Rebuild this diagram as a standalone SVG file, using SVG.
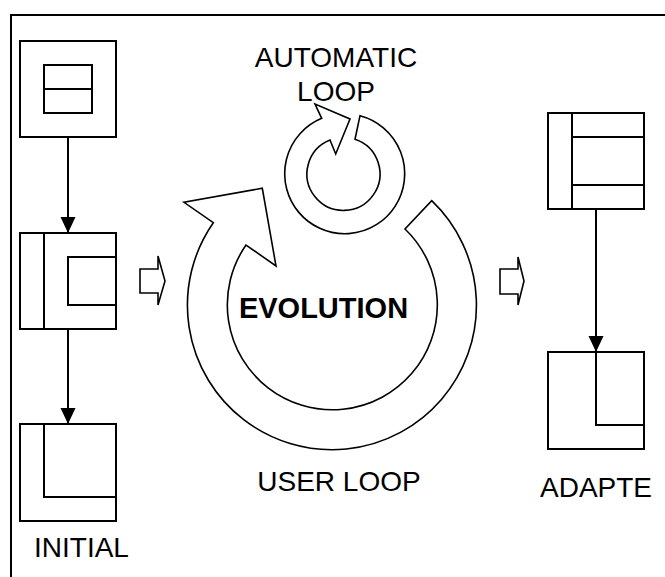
<svg xmlns="http://www.w3.org/2000/svg" width="665" height="577" viewBox="0 0 665 577">
<style>
.box{fill:none;stroke:#000;stroke-width:2}
.ln{fill:none;stroke:#000;stroke-width:2}
.ring{fill:#fff;stroke:#000;stroke-width:1.6;stroke-linejoin:miter}
.lbl{font-family:"Liberation Sans",Arial,sans-serif;font-size:28px;fill:#000;text-anchor:middle}
.big{font-family:"Liberation Sans",Arial,sans-serif;font-size:29px;font-weight:bold;fill:#000;text-anchor:middle}
</style>
<defs>
<marker id="ah" markerUnits="userSpaceOnUse" markerWidth="16" markerHeight="16" refX="16" refY="7.5" orient="auto">
<path d="M0,0 L16,7.5 L0,15 Z" fill="#000"/>
</marker>
</defs>
<rect width="665" height="577" fill="#fff"/>
<g id="frame">
<path class="ln" d="M11,577 V15 H665"/>
</g>
<g id="connectors">
<line class="ln" x1="68" y1="137" x2="68" y2="233" marker-end="url(#ah)"/>
<line class="ln" x1="68" y1="329" x2="68" y2="424" marker-end="url(#ah)"/>
<line class="ln" x1="596" y1="209" x2="596" y2="352" marker-end="url(#ah)"/>
<polygon class="ring" points="140,269 158,269 158,256 165,281 158,305 158,293 140,293"/>
<polygon class="ring" points="500,269 518,269 518,257 524,281 518,305 518,294 500,294"/>
</g>
<g id="node-initial-1">
<rect class="box" x="20" y="41" width="96" height="96"/>
<rect class="box" x="44" y="65" width="48" height="48"/>
<line class="box" x1="44" y1="89" x2="92" y2="89"/>
</g>
<g id="node-initial-2">
<rect class="box" x="20" y="233" width="96" height="96"/>
<line class="box" x1="44" y1="233" x2="44" y2="329"/>
<rect class="box" x="68" y="257" width="48" height="48"/>
</g>
<g id="node-initial-3">
<rect class="box" x="20" y="424" width="96" height="97"/>
<path class="box" d="M44,424 V497 H116"/>
<text class="lbl" x="81.5" y="557">INITIAL</text>
</g>
<g id="user-loop">
<path class="ring" d="M431.7,200.7 A144.5,144.5 0 1 1 213.3,222.7 L184,202.3 L262.3,188.3 L276,266 L246,245 A105,105 0 1 0 405,229 Z"/>
<text class="big" x="323.5" y="318">EVOLUTION</text>
<text class="lbl" x="339" y="491">USER LOOP</text>
</g>
<g id="automatic-loop">
<path class="ring" d="M360,115.7 A60,60 0 1 1 321.7,118.3 L315,104 L350,119 L335.7,154 L330,140 A36.5,36.5 0 1 0 355,139.3 Z"/>
<text class="lbl" x="336" y="67">AUTOMATIC</text>
<text class="lbl" x="336" y="101">LOOP</text>
</g>
<g id="node-adapte-1">
<rect class="box" x="548" y="113" width="96" height="96"/>
<line class="box" x1="572" y1="113" x2="572" y2="209"/>
<line class="box" x1="572" y1="137" x2="644" y2="137"/>
<line class="box" x1="572" y1="185" x2="644" y2="185"/>
</g>
<g id="node-adapte-2">
<rect class="box" x="548" y="352" width="96" height="97"/>
<path class="box" d="M596,352 V425 H644"/>
<text class="lbl" x="596" y="497">ADAPTE</text>
</g>
</svg>
